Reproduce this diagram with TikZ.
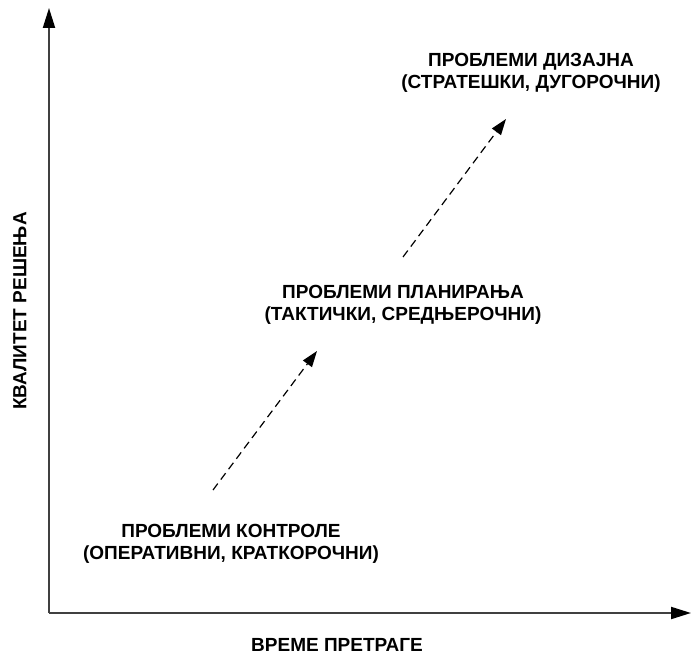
\documentclass[tikz,border=0pt]{standalone}
\usepackage{fontspec}
\setmainfont{Liberation Sans}
\usetikzlibrary{arrows.meta}
\begin{document}
\begin{tikzpicture}[x=1pt,y=-1pt,
  axis/.style={draw=black!75, line width=2pt,
    -{Triangle[length=20pt,width=12pt,color=black]}},
  trend/.style={draw=black, line width=1.2pt, dash pattern=on 8pt off 5pt,
    -{Triangle[length=16pt,width=11pt]}},
  lbl/.style={align=center, inner sep=0pt,
    font=\fontsize{19}{22}\selectfont\bfseries}]
  \useasboundingbox (0,0) rectangle (691,655);

  % axes
  \coordinate (O) at (49,613);
  \coordinate (ytop) at (49,8);
  \coordinate (xend) at (691,613);
  \draw[axis] (O) -- (ytop);
  \draw[axis] (O) -- (xend);

  % axis titles
  \node[lbl, rotate=90] (ylab) at (20,311) {КВАЛИТЕТ РЕШЕЊА};
  \node[lbl] (xlab) at (337,645) {ВРЕМЕ ПРЕТРАГЕ};

  % problem classes
  \node[lbl] (ctrl) at (231,544) {ПРОБЛЕМИ КОНТРОЛЕ\\(ОПЕРАТИВНИ, КРАТКОРОЧНИ)};
  \node[lbl] (plan) at (403,305) {ПРОБЛЕМИ ПЛАНИРАЊА\\(ТАКТИЧКИ, СРЕДЊЕРОЧНИ)};
  \node[lbl] (dsgn) at (531,73) {ПРОБЛЕМИ ДИЗАЈНА\\(СТРАТЕШКИ, ДУГОРОЧНИ)};

  % progression between classes
  \coordinate (a1) at (213,490);
  \coordinate (b1) at (317,351);
  \coordinate (a2) at (403,257);
  \coordinate (b2) at (506,119);
  \draw[trend] (a1) -- (b1);
  \draw[trend] (a2) -- (b2);
\end{tikzpicture}
\end{document}
